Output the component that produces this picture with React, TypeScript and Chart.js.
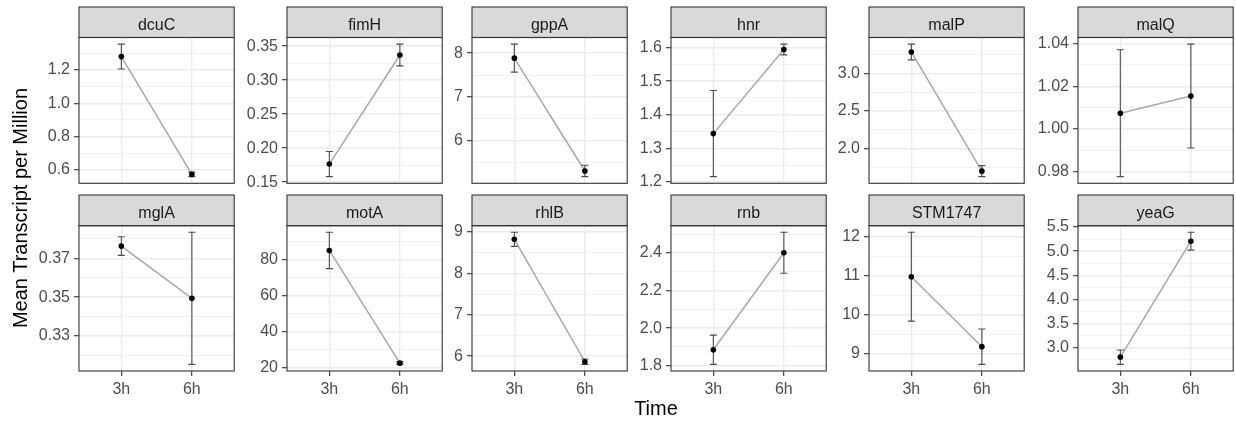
import React, { useEffect, useRef } from 'react';
import { Chart, registerables } from 'chart.js';

Chart.register(...registerables);

// ---------------- data ----------------
const genes = ['dcuC', 'fimH', 'gppA', 'hnr', 'malP', 'malQ', 'mglA', 'motA', 'rhlB', 'rnb', 'STM1747', 'yeaG'];
const timeLabels = ['3h', '6h'];
const timeX = [1, 2];
const mean3h = [1.281, 0.1765, 7.886, 1.344, 3.290, 1.0074, 0.3763, 84.85, 8.82, 1.885, 10.97, 2.80];
const se3h = [0.075, 0.0185, 0.32, 0.128, 0.105, 0.0297, 0.0048, 10.05, 0.17, 0.078, 1.14, 0.15];
const mean6h = [0.572, 0.337, 5.31, 1.594, 1.697, 1.0154, 0.3494, 22.5, 5.865, 2.401, 9.175, 5.205];
const se6h = [0.014, 0.016, 0.13, 0.016, 0.074, 0.0243, 0.034, 0.7, 0.065, 0.109, 0.455, 0.185];
const yTickLabels = [
  ['0.6', '0.8', '1.0', '1.2'],
  ['0.15', '0.20', '0.25', '0.30', '0.35'],
  ['6', '7', '8'],
  ['1.2', '1.3', '1.4', '1.5', '1.6'],
  ['2.0', '2.5', '3.0'],
  ['0.98', '1.00', '1.02', '1.04'],
  ['0.33', '0.35', '0.37'],
  ['20', '40', '60', '80'],
  ['6', '7', '8', '9'],
  ['1.8', '2.0', '2.2', '2.4'],
  ['9', '10', '11', '12'],
  ['3.0', '3.5', '4.0', '4.5', '5.0', '5.5'],
];
const xTitle = 'Time';
const yTitle = 'Mean Transcript per Million';

// ---------------- layout / style ----------------
const FONT = '"Liberation Sans", Arial, Helvetica, sans-serif';
const COL_LEFT = [79, 287, 472, 671, 869, 1078];
const PANEL_W = 155;
const STRIP_TOP = [7, 195];
const PLOT_TOP = [37.5, 225.7];
const PLOT_BOTTOM = [183.3, 371];
const AXIS_W = 48;
const X_AXIS_H = 30;
const GRID = '#ebebeb';
const DARK = '#333333';

function Panel({ idx }: { idx: number }) {
  const ref = useRef<HTMLCanvasElement | null>(null);
  const row = Math.floor(idx / 6);
  const col = idx % 6;
  const bottomRow = row === 1;
  const cTop = STRIP_TOP[row] - 2;
  const cLeft = COL_LEFT[col] - AXIS_W;
  const cW = AXIS_W + PANEL_W + 3;
  const xH = bottomRow ? X_AXIS_H : 0;
  const cH = Math.ceil(PLOT_BOTTOM[row] - cTop) + xH + 4;
  const padBottom = cH - xH - (PLOT_BOTTOM[row] - cTop);
  const padTop = PLOT_TOP[row] - cTop;

  useEffect(() => {
    const canvas = ref.current;
    if (!canvas) return;
    const means = [mean3h[idx], mean6h[idx]];
    const ses = [se3h[idx], se6h[idx]];
    const lo = Math.min(means[0] - ses[0], means[1] - ses[1]);
    const hi = Math.max(means[0] + ses[0], means[1] + ses[1]);
    const ex = (hi - lo) * 0.05;
    const pts = timeX.map((x, i) => ({ x, y: means[i] }));

    const facetPlugin = {
      id: 'facet' + idx,
      beforeDatasetDraw(chart: any, args: any) {
        if (args.index !== 0) return;
        const ctx = chart.ctx;
        const xs = chart.scales.x;
        const ys = chart.scales.y;
        ctx.save();
        ctx.strokeStyle = '#4d4d4d';
        ctx.lineWidth = 1.1;
        timeX.forEach((x, i) => {
          const px = xs.getPixelForValue(x);
          const pl = xs.getPixelForValue(x - 0.05);
          const pr = xs.getPixelForValue(x + 0.05);
          const yt = ys.getPixelForValue(means[i] + ses[i]);
          const yb = ys.getPixelForValue(means[i] - ses[i]);
          ctx.beginPath();
          ctx.moveTo(px, yt);
          ctx.lineTo(px, yb);
          ctx.moveTo(pl, yt);
          ctx.lineTo(pr, yt);
          ctx.moveTo(pl, yb);
          ctx.lineTo(pr, yb);
          ctx.stroke();
        });
        ctx.restore();
      },
      afterDraw(chart: any) {
        const ctx = chart.ctx;
        const a = chart.chartArea;
        const sTop = 2;
        ctx.save();
        // strip
        ctx.fillStyle = '#d9d9d9';
        ctx.fillRect(a.left, sTop, a.right - a.left, a.top - sTop);
        ctx.strokeStyle = DARK;
        ctx.lineWidth = 1.1;
        ctx.strokeRect(a.left, sTop, a.right - a.left, a.top - sTop);
        ctx.fillStyle = '#1a1a1a';
        ctx.font = '16px ' + FONT;
        ctx.textAlign = 'center';
        ctx.textBaseline = 'alphabetic';
        ctx.fillText(genes[idx], (a.left + a.right) / 2, a.top - 8);
        // panel border
        ctx.strokeStyle = DARK;
        ctx.lineWidth = 1.1;
        ctx.strokeRect(a.left, a.top, a.right - a.left, a.bottom - a.top);
        ctx.restore();
      },
    };

    const zeroPad = (s: any) => {
      s.paddingLeft = 0;
      s.paddingRight = 0;
      s.paddingTop = 0;
      s.paddingBottom = 0;
    };

    const chart = new Chart(canvas, {
      type: 'scatter',
      data: {
        datasets: [
          {
            data: pts,
            order: 0,
            showLine: false,
            pointRadius: 2.8,
            pointHoverRadius: 2.8,
            pointBackgroundColor: '#000000',
            pointBorderWidth: 0,
            borderColor: '#000000',
          },
          {
            data: pts,
            order: 1,
            showLine: true,
            pointRadius: 0,
            borderColor: '#a8a8a8',
            borderWidth: 1.5,
            fill: false,
          },
        ],
      },
      options: {
        animation: false,
        responsive: false,
        devicePixelRatio: 1,
        events: [],
        layout: { padding: { top: padTop, left: 0, right: 2, bottom: padBottom } },
        plugins: { legend: { display: false }, tooltip: { enabled: false }, title: { display: false } },
        scales: {
          x: {
            type: 'linear',
            min: 0.4,
            max: 2.6,
            afterBuildTicks: (s: any) => {
              s.ticks = timeX.map((v) => ({ value: v }));
            },
            afterFit: (s: any) => {
              s.height = xH;
              zeroPad(s);
            },
            ticks: {
              display: bottomRow,
              autoSkip: false,
              maxRotation: 0,
              padding: 4,
              color: '#4d4d4d',
              font: { family: FONT, size: 16 },
              callback: (v: any) => timeLabels[timeX.indexOf(Math.round(Number(v)))] ?? '',
            },
            grid: {
              color: GRID,
              lineWidth: 1.4,
              drawTicks: bottomRow,
              tickLength: 5,
              tickColor: DARK,
              tickWidth: 1.1,
            },
            border: { display: false },
          },
          y: {
            type: 'linear',
            min: lo - ex,
            max: hi + ex,
            afterBuildTicks: (s: any) => {
              const labels = yTickLabels[idx];
              const majors = labels.map(Number);
              const half = (majors[1] - majors[0]) / 2;
              const kmin = Math.ceil((s.min - majors[0]) / half - 1e-9);
              const kmax = Math.floor((s.max - majors[0]) / half + 1e-9);
              const out: any[] = [];
              for (let k = kmin; k <= kmax; k++) {
                const isMajor = k % 2 === 0 && k >= 0 && k / 2 < labels.length;
                out.push({ value: majors[0] + k * half, isMajor, lbl: isMajor ? labels[k / 2] : '' });
              }
              s.ticks = out;
            },
            afterFit: (s: any) => {
              s.width = AXIS_W;
              zeroPad(s);
            },
            ticks: {
              autoSkip: false,
              padding: 4,
              color: '#4d4d4d',
              font: { family: FONT, size: 16 },
              callback: (_v: any, i: number, ticks: any[]) => (ticks[i] && ticks[i].lbl) || '',
            },
            grid: {
              color: GRID,
              lineWidth: (c: any) => (c.tick && c.tick.isMajor ? 1.4 : 0.7),
              drawTicks: true,
              tickLength: 5,
              tickColor: (c: any) => (c.tick && c.tick.isMajor ? DARK : 'rgba(0,0,0,0)'),
              tickWidth: 1.1,
            },
            border: { display: false },
          },
        },
      },
      plugins: [facetPlugin],
    } as any);
    return () => chart.destroy();
  }, [idx]);

  return (
    <canvas
      ref={ref}
      width={cW}
      height={cH}
      style={{ position: 'absolute', left: cLeft, top: cTop, width: cW, height: cH }}
    />
  );
}

export default function App() {
  return (
    <div
      style={{
        position: 'absolute',
        left: 0,
        top: 0,
        width: 1236,
        height: 421,
        background: '#ffffff',
        overflow: 'hidden',
      }}
    >
      {genes.map((g, i) => (
        <Panel key={g} idx={i} />
      ))}
      <div
        style={{
          position: 'absolute',
          left: 556,
          top: 396,
          width: 200,
          textAlign: 'center',
          fontFamily: FONT,
          fontSize: 20,
          lineHeight: '24px',
          color: '#000',
        }}
      >
        {xTitle}
      </div>
      <div
        style={{
          position: 'absolute',
          left: 20 - 150,
          top: 208 - 12,
          width: 300,
          height: 24,
          textAlign: 'center',
          fontFamily: FONT,
          fontSize: 20,
          lineHeight: '24px',
          color: '#000',
          transform: 'rotate(-90deg)',
          transformOrigin: 'center center',
          whiteSpace: 'nowrap',
        }}
      >
        {yTitle}
      </div>
    </div>
  );
}
